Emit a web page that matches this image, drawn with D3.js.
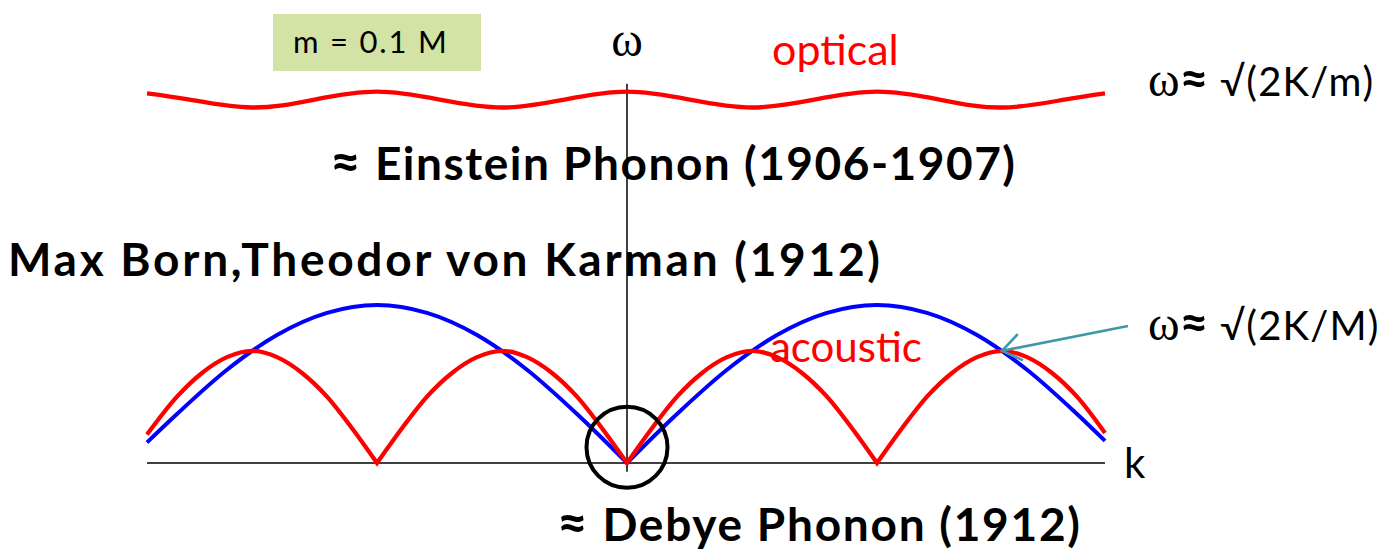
<!DOCTYPE html>
<html>
<head>
<meta charset="utf-8">
<script src="https://cdn.jsdelivr.net/npm/d3@7"></script>
<style>
  body { margin: 0; background: #fff; }
  text { font-family: Lato, "Open Sans", sans-serif; }
  .serif { font-family: "Liberation Serif", "DejaVu Serif", serif; }
</style>
</head>
<body>
<div id="container"></div>
<script>
// wave vector samples (blue branch, heavy chain only)
const kBlue = [-0.96, -0.9, -0.8, -0.7, -0.6, -0.5, -0.4, -0.3, -0.2, -0.1, 0,
    0.1, 0.2, 0.3, 0.4, 0.5, 0.6, 0.7, 0.8, 0.9, 0.956];
const wBlue = [0.13, 0.31, 0.59, 0.81, 0.95, 1.00, 0.95, 0.81, 0.59, 0.31, 0,
    0.31, 0.59, 0.81, 0.95, 1.00, 0.95, 0.81, 0.59, 0.31, 0.14];

// acoustic branch (red, lower)
const kAcoustic = [-0.96, -0.9, -0.85, -0.8, -0.75, -0.7, -0.65, -0.6, -0.55, -0.5,
    -0.45, -0.4, -0.35, -0.3, -0.25, -0.2, -0.15, -0.1, -0.05, 0,
    0.05, 0.1, 0.15, 0.2, 0.25, 0.3, 0.35, 0.4, 0.45, 0.5,
    0.55, 0.6, 0.65, 0.7, 0.75, 0.8, 0.85, 0.9, 0.956];
const wAcoustic = [0.18, 0.42, 0.57, 0.67, 0.71, 0.67, 0.57, 0.42, 0.22, 0,
    0.22, 0.42, 0.57, 0.67, 0.71, 0.67, 0.57, 0.42, 0.22, 0,
    0.22, 0.42, 0.57, 0.67, 0.71, 0.67, 0.57, 0.42, 0.22, 0,
    0.22, 0.42, 0.57, 0.67, 0.71, 0.67, 0.57, 0.42, 0.19];

// optical branch (red, upper)
const kOptical = [-0.96, -0.875, -0.75, -0.625, -0.5, -0.375, -0.25, -0.125, 0,
    0.125, 0.25, 0.375, 0.5, 0.625, 0.75, 0.875, 0.956];
const wOptical = [2.34, 2.30, 2.25, 2.30, 2.35, 2.30, 2.25, 2.30, 2.35,
    2.30, 2.25, 2.30, 2.35, 2.30, 2.25, 2.30, 2.34];

// point the arrow refers to
const arrowTarget = { k: 0.75, w: 0.71 };

const width = 1393, height = 553;

const svg = d3.select("#container").append("svg")
    .attr("width", width)
    .attr("height", height);

const x = d3.scaleLinear().domain([-0.96, 0.956]).range([147, 1105]);
const y = d3.scaleLinear().domain([0, 2.5]).range([463, 68]);

// green note box
svg.append("rect")
    .attr("x", 273).attr("y", 14)
    .attr("width", 208).attr("height", 57)
    .attr("fill", "#d2e3a5");

svg.append("text")
    .attr("x", 293).attr("y", 53)
    .attr("font-size", 31)
    .attr("letter-spacing", 1.8)
    .text("m = 0.1 M");

// axes
svg.append("line")
    .attr("x1", x(-0.96)).attr("x2", x(0.956))
    .attr("y1", y(0)).attr("y2", y(0))
    .attr("stroke", "#000").attr("stroke-width", 1.5);

svg.append("line")
    .attr("x1", x(0)).attr("x2", x(0))
    .attr("y1", y(-0.055)).attr("y2", y(2.4))
    .attr("stroke", "#000").attr("stroke-width", 1.5);

// builds one path, keeping cusps sharp where omega drops to zero
function branchPath(ks, ws) {
    const pts = ks.map((k, i) => [x(k), y(ws[i])]);
    const arches = [];
    let cur = [];
    pts.forEach(function(p, i) {
        cur.push(p);
        if (ws[i] === 0 && cur.length > 1) {
            arches.push(cur);
            cur = [p];
        }
    });
    if (cur.length > 1) arches.push(cur);

    const line = d3.line().curve(d3.curveMonotoneX);
    return arches.map(function(a, i) {
        const d = line(a);
        // drops the moveto of later arches so the joins stay in one path
        return i === 0 ? d : d.replace(/^M[^A-Za-z]*/, "");
    }).join("");
}

svg.append("path")
    .attr("d", branchPath(kBlue, wBlue))
    .attr("fill", "none")
    .attr("stroke", "#0000ff")
    .attr("stroke-width", 4)
    .attr("stroke-linejoin", "miter");

svg.append("path")
    .attr("d", branchPath(kAcoustic, wAcoustic))
    .attr("fill", "none")
    .attr("stroke", "#ff0000")
    .attr("stroke-width", 4.3)
    .attr("stroke-linejoin", "miter");

svg.append("path")
    .attr("d", d3.line().curve(d3.curveNatural)(kOptical.map((k, i) => [x(k), y(wOptical[i])])))
    .attr("fill", "none")
    .attr("stroke", "#ff0000")
    .attr("stroke-width", 4.3);

// circle round the origin
svg.append("circle")
    .attr("cx", x(0)).attr("cy", y(0.1))
    .attr("r", 40.5)
    .attr("fill", "none")
    .attr("stroke", "#000")
    .attr("stroke-width", 4);

// arrow to the top of the acoustic branch
const tip = [x(arrowTarget.k), y(arrowTarget.w)];
const tail = [1128, 326];
const ang = Math.atan2(tail[1] - tip[1], tail[0] - tip[0]);
const barb = a => [tip[0] + 23 * Math.cos(ang + a), tip[1] + 23 * Math.sin(ang + a)];

svg.append("path")
    .attr("d", d3.line()([tail, tip]) + d3.line()([barb(-0.62), tip, barb(0.62)]))
    .attr("fill", "none")
    .attr("stroke", "#3f98aa")
    .attr("stroke-width", 2.6);

// labels
svg.append("text")
    .attr("class", "serif")
    .attr("x", x(0)).attr("y", 56)
    .attr("text-anchor", "middle")
    .attr("font-size", 48)
    .text("ω");

svg.append("text")
    .attr("x", 772).attr("y", 65)
    .attr("font-size", 43)
    .attr("fill", "#ff0000")
    .text("optical");

svg.append("text")
    .attr("x", 770).attr("y", 362)
    .attr("font-size", 42)
    .attr("fill", "#ff0000")
    .text("acoustic");

svg.append("text")
    .attr("x", 1124).attr("y", 478)
    .attr("font-size", 42)
    .text("k");

function omegaLabel(yPos, mass) {
    const t = svg.append("text")
        .attr("x", 1148).attr("y", yPos)
        .attr("font-size", 40);
    t.append("tspan").attr("class", "serif").attr("font-size", 48).text("ω");
    t.append("tspan").attr("font-size", 50).attr("font-weight", "bold").text("≈");
    t.append("tspan").attr("letter-spacing", 1.2).text(" √(2K/" + mass + ")");
}
omegaLabel(96, "m");
omegaLabel(340, "M");

const titles = [
    { text: "≈ Einstein Phonon (1906-1907)", x: 330, y: 180, len: 685 },
    { text: "Max Born,Theodor von Karman (1912)", x: 8, y: 276, len: 872 },
    { text: "≈ Debye Phonon (1912)", x: 557, y: 541, len: 523 }
];

const titleText = svg.selectAll(".title")
    .data(titles)
    .enter().append("text")
    .attr("class", "title")
    .attr("x", d => d.x)
    .attr("y", d => d.y)
    .attr("font-size", 46)
    .attr("font-weight", "bold")
    .attr("textLength", d => d.len)
    .attr("lengthAdjust", "spacing");

// the approx sign is drawn a bit larger, as on the slide
titleText.each(function(d) {
    const t = d3.select(this);
    if (d.text.startsWith("≈")) {
        t.append("tspan").attr("font-size", 53).text("≈");
        t.append("tspan").text(d.text.slice(1));
    } else {
        t.text(d.text);
    }
});
</script>
</body>
</html>
